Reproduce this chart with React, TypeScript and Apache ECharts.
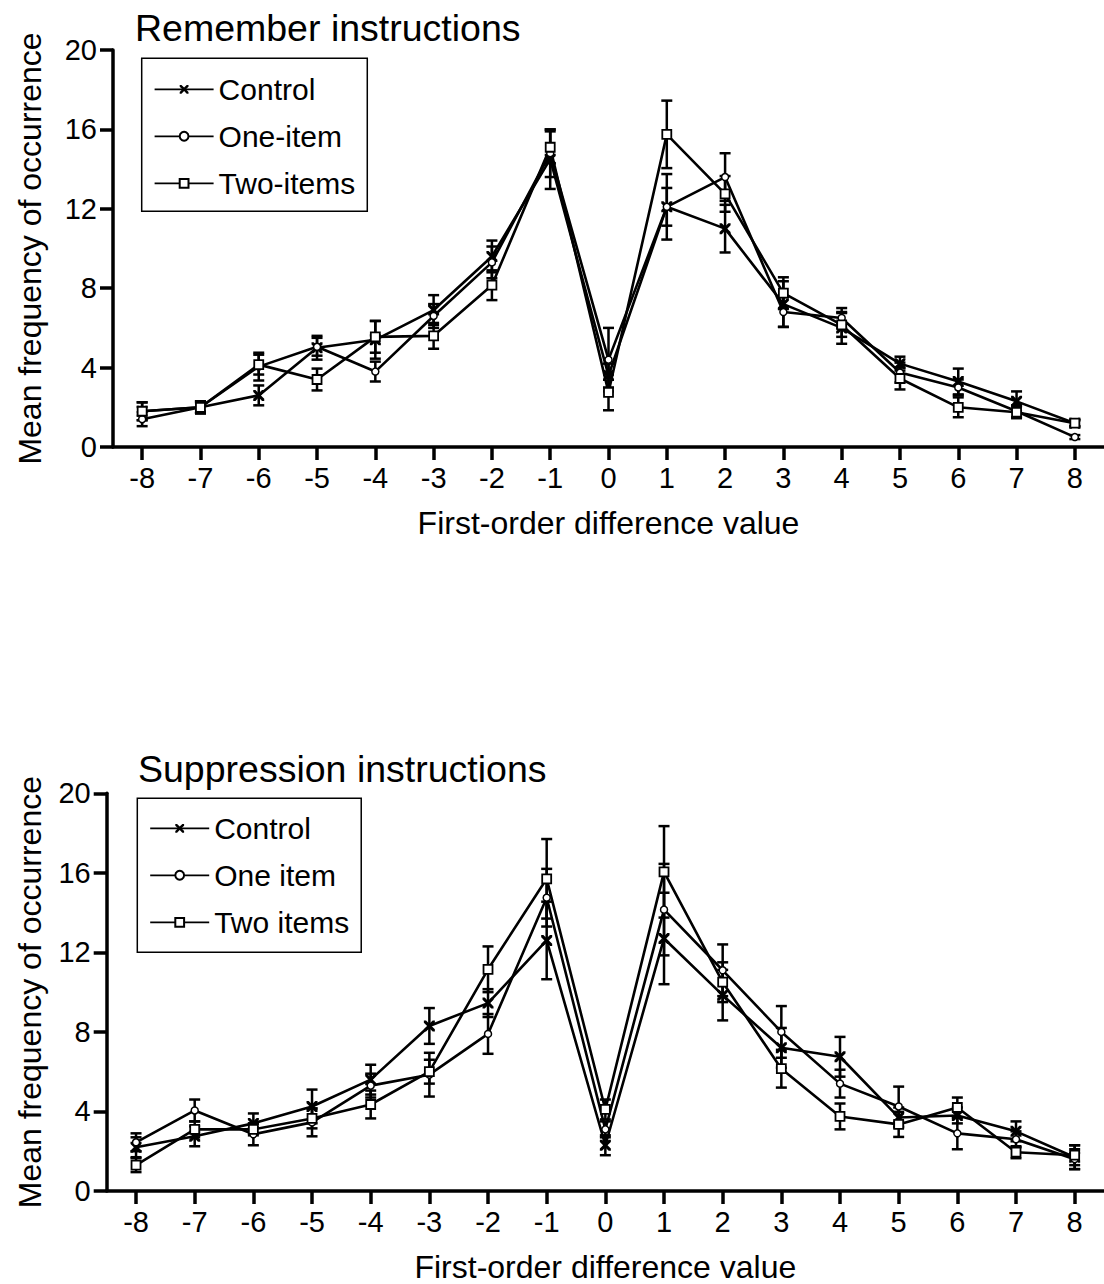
import React, { useEffect, useRef } from "react";
import * as echarts from "echarts";

const categories = ["-8", "-7", "-6", "-5", "-4", "-3", "-2", "-1", "0", "1", "2", "3", "4", "5", "6", "7", "8"];

// Remember instructions
const remControl = [1.8, 2.0, 2.6, 5.0, 5.4, 6.9, 9.6, 14.5, 3.6, 12.1, 11.0, 7.2, 6.0, 4.2, 3.3, 2.3, 1.2];
const remControlErr = [0.45, 0.3, 0.5, 0.6, 0.95, 0.75, 0.8, 1.5, 0.6, 1.65, 1.2, 1.15, 0.8, 0.35, 0.65, 0.5, 0.15];
const remOne = [1.4, 2.0, 4.05, 5.05, 3.8, 6.6, 9.3, 14.8, 4.4, 12.1, 13.6, 6.8, 6.5, 3.75, 3.0, 1.8, 0.5];
const remOneErr = [0.35, 0.3, 0.7, 0.45, 0.5, 0.6, 0.8, 1.2, 1.6, 0.95, 1.2, 0.75, 0.5, 0.5, 0.4, 0.3, 0.1];
const remTwo = [1.8, 2.0, 4.15, 3.4, 5.55, 5.6, 8.15, 15.1, 2.75, 15.75, 12.75, 7.75, 6.15, 3.45, 2.0, 1.75, 1.2];
const remTwoErr = [0.45, 0.3, 0.5, 0.55, 0.8, 0.65, 0.75, 0.8, 0.9, 1.7, 0.9, 0.8, 0.6, 0.55, 0.5, 0.3, 0.15];

// Suppression instructions
const supControl = [2.2, 2.75, 3.4, 4.25, 5.6, 8.3, 9.45, 12.6, 2.3, 12.7, 9.85, 7.2, 6.75, 3.7, 3.8, 3.0, 1.7];
const supControlErr = [0.5, 0.5, 0.5, 0.85, 0.75, 0.9, 0.7, 1.95, 0.5, 2.3, 1.27, 1.0, 1.0, 0.5, 0.4, 0.5, 0.6];
const supOne = [2.45, 4.05, 2.85, 3.45, 5.3, 5.85, 7.9, 14.75, 3.1, 14.15, 11.1, 8.0, 5.4, 4.25, 2.9, 2.6, 1.6];
const supOneErr = [0.45, 0.55, 0.55, 0.7, 0.6, 1.1, 1.0, 1.45, 0.4, 2.3, 1.3, 1.3, 0.7, 1.0, 0.8, 0.4, 0.5];
const supTwo = [1.3, 3.1, 3.1, 3.65, 4.35, 6.0, 11.15, 15.7, 4.1, 16.05, 10.5, 6.15, 3.75, 3.35, 4.2, 1.95, 1.8];
const supTwoErr = [0.35, 0.4, 0.3, 0.5, 0.7, 0.6, 1.15, 2.0, 0.5, 2.3, 1.0, 0.95, 0.65, 0.63, 0.5, 0.3, 0.5];

const yMin = 0;
const yMax = 20;
const yInterval = 4;

const titles = ["Remember instructions", "Suppression instructions"];
const legendNames = [
  ["Control", "One-item", "Two-items"],
  ["Control", "One item", "Two items"],
];
const xName = "First-order difference value";
const yName = "Mean frequency of occurrence";

const FONT = "'Liberation Sans', Arial, Helvetica, sans-serif";
const CROSS =
  "path://M0,0 L4,0 L10,6 L16,0 L20,0 L20,4 L14,10 L20,16 L20,20 L16,20 L10,14 L4,20 L0,20 L0,16 L6,10 L0,4 Z";

const symbolDefs = [
  { symbol: CROSS, symbolSize: 11, itemStyle: { color: "#000", borderWidth: 0 } },
  { symbol: "circle", symbolSize: 7, itemStyle: { color: "#fff", borderColor: "#000", borderWidth: 1.5 } },
  { symbol: "rect", symbolSize: 9, itemStyle: { color: "#fff", borderColor: "#000", borderWidth: 1.8 } },
];

function renderErr(_params: any, api: any) {
  const x = api.value(0);
  const lo = api.coord([x, api.value(1)]);
  const hi = api.coord([x, api.value(2)]);
  const w = 5.5;
  const style = { stroke: "#000", lineWidth: 2.5, fill: "none" };
  return {
    type: "group",
    children: [
      { type: "line", shape: { x1: lo[0], y1: lo[1], x2: hi[0], y2: hi[1] }, style },
      { type: "line", shape: { x1: lo[0] - w, y1: lo[1], x2: lo[0] + w, y2: lo[1] }, style },
      { type: "line", shape: { x1: hi[0] - w, y1: hi[1], x2: hi[0] + w, y2: hi[1] }, style },
    ],
  };
}

function makeSeries(panel: number, names: string[], vals: number[][], errs: number[][]) {
  const out: any[] = [];
  names.forEach((_name, k) => {
    out.push({
      type: "custom",
      xAxisIndex: panel,
      yAxisIndex: panel,
      renderItem: renderErr,
      encode: { x: 0, y: [1, 2] },
      data: vals[k].map((v, i) => [i, v - errs[k][i], v + errs[k][i]]),
      z: 1,
      silent: true,
    });
  });
  names.forEach((name, k) => {
    out.push({
      type: "line",
      name,
      xAxisIndex: panel,
      yAxisIndex: panel,
      data: vals[k],
      symbol: symbolDefs[k].symbol,
      symbolSize: symbolDefs[k].symbolSize,
      itemStyle: symbolDefs[k].itemStyle,
      lineStyle: { color: "#000", width: 2.6 },
      showAllSymbol: true,
      z: 3,
    });
  });
  return out;
}

const grids = [
  { left: 113, top: 50, width: 992, height: 397 },
  { left: 106.7, top: 793.3, width: 999, height: 400 },
];
const legendPos = [
  { left: 141.7, top: 58.3, padding: [16, 12, 13, 12] },
  { left: 137.3, top: 798.3, padding: [15, 12, 15, 12] },
];
const titleTops = [9, 750];
const titleLefts = [135, 138];
const yNameGaps = [67, 61];

export default function App() {
  const ref = useRef<HTMLDivElement>(null);
  useEffect(() => {
    document.body.style.margin = "0";
    if (!ref.current) return;
    const chart = echarts.init(ref.current, undefined, { renderer: "svg" });
    const axisLine = { show: true, lineStyle: { color: "#000", width: 3.5 } };
    const axisTick = { show: true, length: 13, lineStyle: { color: "#000", width: 3.5 } };
    const option: any = {
      animation: false,
      backgroundColor: "#fff",
      textStyle: { fontFamily: FONT, color: "#000" },
      title: titles.map((t, i) => ({
        text: t,
        left: titleLefts[i],
        top: titleTops[i],
        padding: 0,
        textStyle: { fontSize: 37.5, fontWeight: "normal", color: "#000", fontFamily: FONT },
      })),
      legend: legendNames.map((names, i) => ({
        data: names,
        orient: "vertical",
        left: legendPos[i].left,
        top: legendPos[i].top,
        padding: legendPos[i].padding,
        itemWidth: 59,
        itemHeight: 11,
        itemGap: 17,
        borderColor: "#000",
        borderWidth: 1.5,
        selectedMode: false,
        lineStyle: { width: 1.8 },
        textStyle: { fontSize: 30, lineHeight: 30, color: "#000", fontFamily: FONT },
      })),
      grid: grids.map((g) => ({ ...g, containLabel: false })),
      xAxis: grids.map((_, i) => ({
        type: "category",
        gridIndex: i,
        data: categories,
        boundaryGap: true,
        axisLine,
        axisTick: { ...axisTick, alignWithLabel: true },
        axisLabel: { fontSize: 29, color: "#000", margin: 16, fontFamily: FONT, interval: 0 },
        name: xName,
        nameLocation: "middle",
        nameGap: 60,
        nameTextStyle: { fontSize: 32, color: "#000", fontFamily: FONT },
        splitLine: { show: false },
      })),
      yAxis: grids.map((_, i) => ({
        type: "value",
        gridIndex: i,
        min: yMin,
        max: yMax,
        interval: yInterval,
        axisLine,
        axisTick,
        axisLabel: { fontSize: 29, color: "#000", margin: 16, fontFamily: FONT },
        name: yName,
        nameLocation: "middle",
        nameGap: yNameGaps[i],
        nameTextStyle: { fontSize: 32, color: "#000", fontFamily: FONT },
        splitLine: { show: false },
      })),
      series: [
        ...makeSeries(0, legendNames[0], [remControl, remOne, remTwo], [remControlErr, remOneErr, remTwoErr]),
        ...makeSeries(1, legendNames[1], [supControl, supOne, supTwo], [supControlErr, supOneErr, supTwoErr]),
      ],
    };
    chart.setOption(option);
    return () => chart.dispose();
  }, []);
  return <div ref={ref} style={{ width: 1104, height: 1284 }} />;
}
